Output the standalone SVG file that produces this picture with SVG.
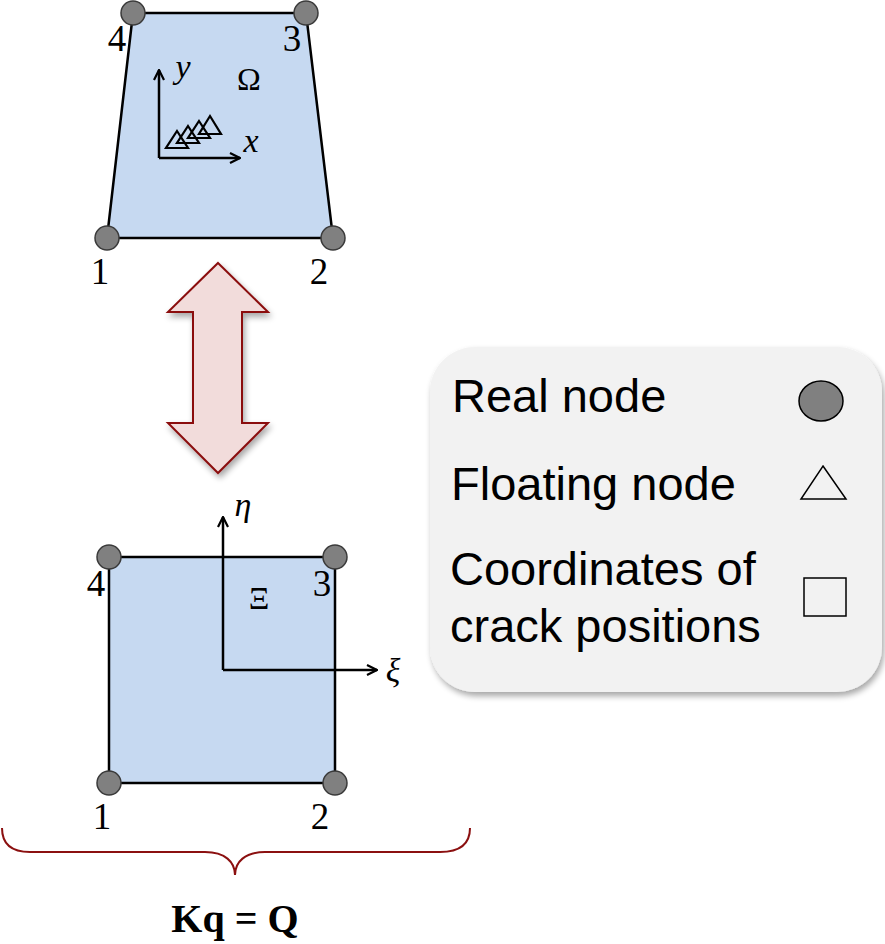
<svg xmlns="http://www.w3.org/2000/svg" width="885" height="944" viewBox="0 0 885 944">
<defs>
<style>
.elem{fill:#c6d9f1;stroke:#000;stroke-width:2.5;stroke-linejoin:round}
.nd{fill:#808080;stroke:#3a3a3a;stroke-width:1.5}
.num{font-family:"Liberation Serif","DejaVu Serif",serif;font-size:37px;fill:#000;text-anchor:middle}
.ax{stroke:#000;stroke-width:2.5;fill:none}
.axl{font-family:"Liberation Serif","DejaVu Serif",serif;font-size:34px;font-style:italic;fill:#000;text-anchor:middle}
.gr{font-family:"Liberation Serif","DejaVu Serif",serif;font-size:32px;fill:#000;text-anchor:middle}
.leg{font-family:"Liberation Sans",Arial,sans-serif;font-size:47px;fill:#000}
.tri{fill:none;stroke:#000;stroke-width:2.2}
</style>
<marker id="ah" viewBox="0 0 12 12" refX="11" refY="6" markerWidth="12" markerHeight="12" markerUnits="userSpaceOnUse" orient="auto">
<path d="M1,1 L11,6 L1,11" fill="none" stroke="#000" stroke-width="2.2"/>
</marker>
<filter id="sh" x="-10%" y="-10%" width="130%" height="130%">
<feGaussianBlur in="SourceAlpha" stdDeviation="3"/>
<feOffset dx="2" dy="4"/>
<feComponentTransfer><feFuncA type="linear" slope="0.35"/></feComponentTransfer>
<feMerge><feMergeNode/><feMergeNode in="SourceGraphic"/></feMerge>
</filter>
</defs>

<g id="physical-element">
<polygon class="elem" points="133,13 306,13 333,238 107,238"/>
<line class="ax" x1="159" y1="158" x2="159" y2="70" marker-end="url(#ah)"/>
<line class="ax" x1="159" y1="158" x2="240" y2="158" marker-end="url(#ah)"/>
<text class="axl" x="183" y="78">y</text>
<text class="axl" x="251" y="152">x</text>
<text class="gr" x="249" y="90">Ω</text>
<polygon class="tri" points="177,131 188,148 166,148"/>
<polygon class="tri" points="188,126 199,143 177,143"/>
<polygon class="tri" points="199,121 210,138 188,138"/>
<polygon class="tri" points="210,116 221,134 199,134"/>
<circle class="nd" cx="133" cy="13" r="12"/>
<circle class="nd" cx="306" cy="13" r="12"/>
<circle class="nd" cx="107" cy="238" r="12"/>
<circle class="nd" cx="333" cy="238" r="12"/>
<text class="num" x="117" y="51">4</text>
<text class="num" x="292" y="51">3</text>
<text class="num" x="100" y="284">1</text>
<text class="num" x="319" y="284">2</text>
</g>

<g id="reference-element">
<rect class="elem" x="109" y="557" width="226" height="226"/>
<line class="ax" x1="223" y1="670" x2="223" y2="517" marker-end="url(#ah)"/>
<line class="ax" x1="223" y1="670" x2="377" y2="670" marker-end="url(#ah)"/>
<text class="axl" x="243" y="516">η</text>
<text class="axl" x="393" y="682">ξ</text>
<text class="gr" x="259" y="609">Ξ</text>
<circle class="nd" cx="109" cy="557" r="12"/>
<circle class="nd" cx="335" cy="557" r="12"/>
<circle class="nd" cx="109" cy="783" r="12"/>
<circle class="nd" cx="335" cy="783" r="12"/>
<text class="num" x="96" y="596">4</text>
<text class="num" x="322" y="596">3</text>
<text class="num" x="102" y="829">1</text>
<text class="num" x="320" y="829">2</text>
</g>

<g id="connectors">
<path d="M218,263 L268,312 L242,312 L242,423 L268,423 L218,473 L168,423 L193,423 L193,312 L168,312 Z" fill="#f2dcdb" stroke="#8b1010" stroke-width="2" stroke-linejoin="miter" filter="url(#sh)"/>
<path d="M2,828 C2,845 12,852 30,852 L205,852 C225,852 235,862 235,875 C235,862 245,852 265,852 L440,852 C458,852 470,845 470,828" fill="none" stroke="#8b1010" stroke-width="2"/>
</g>

<g id="equation">
<text x="235" y="932" text-anchor="middle" font-family="'Liberation Serif','DejaVu Serif',serif" font-size="40" font-weight="bold">Kq = Q</text>
</g>

<g id="legend">
<rect x="430" y="347" width="452" height="345" rx="45" ry="45" fill="#f2f2f2" filter="url(#sh)"/>
<text class="leg" x="452" y="412">Real node</text>
<text class="leg" x="451" y="500">Floating node</text>
<text class="leg" x="450" y="585">Coordinates of</text>
<text class="leg" x="450" y="642">crack positions</text>
<ellipse cx="821" cy="401" rx="22" ry="20" fill="#808080" stroke="#000" stroke-width="1.5"/>
<polygon points="823,466 846,499 801,499" fill="none" stroke="#000" stroke-width="1.5"/>
<rect x="804" y="578" width="42" height="38" fill="none" stroke="#000" stroke-width="1.5"/>
</g>
</svg>
